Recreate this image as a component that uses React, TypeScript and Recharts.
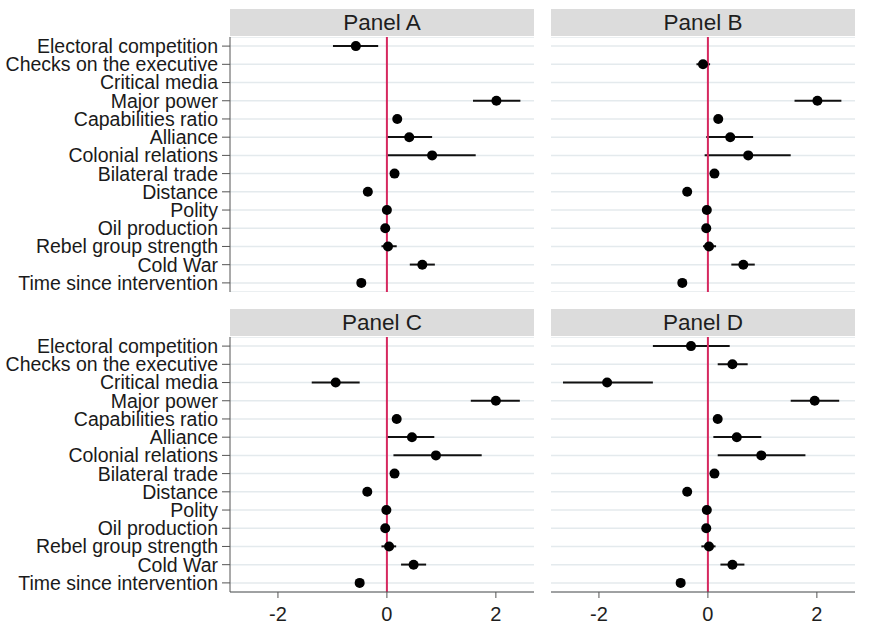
import React from "react";
import { ComposedChart, Bar, Line, XAxis, YAxis, CartesianGrid, ReferenceLine } from "recharts";

const variables = [
  "Electoral competition",
  "Checks on the executive",
  "Critical media",
  "Major power",
  "Capabilities ratio",
  "Alliance",
  "Colonial relations",
  "Bilateral trade",
  "Distance",
  "Polity",
  "Oil production",
  "Rebel group strength",
  "Cold War",
  "Time since intervention",
];

const xTicks = [-2, 0, 2];

const aEst = [-0.57, null, null, 2.01, 0.19, 0.41, 0.83, 0.14, -0.35, 0.0, -0.03, 0.02, 0.65, -0.47];
const aLo = [-0.99, null, null, 1.58, 0.12, 0.0, 0.01, 0.08, -0.42, -0.03, -0.07, -0.1, 0.42, -0.53];
const aHi = [-0.16, null, null, 2.45, 0.26, 0.83, 1.63, 0.2, -0.28, 0.03, 0.01, 0.18, 0.88, -0.41];

const bEst = [null, -0.09, null, 2.01, 0.19, 0.41, 0.74, 0.12, -0.38, -0.02, -0.03, 0.02, 0.65, -0.47];
const bLo = [null, -0.21, null, 1.59, 0.12, -0.03, -0.06, 0.06, -0.45, -0.05, -0.07, -0.09, 0.43, -0.53];
const bHi = [null, 0.04, null, 2.45, 0.26, 0.83, 1.52, 0.18, -0.31, 0.01, 0.01, 0.15, 0.86, -0.41];

const cEst = [null, null, -0.94, 2.0, 0.18, 0.46, 0.9, 0.14, -0.36, -0.01, -0.03, 0.04, 0.49, -0.5];
const cLo = [null, null, -1.38, 1.54, 0.11, 0.0, 0.12, 0.08, -0.43, -0.04, -0.07, -0.1, 0.26, -0.56];
const cHi = [null, null, -0.5, 2.44, 0.25, 0.87, 1.74, 0.2, -0.29, 0.02, 0.01, 0.17, 0.72, -0.44];

const dEst = [-0.31, 0.45, -1.85, 1.96, 0.18, 0.53, 0.98, 0.12, -0.38, -0.02, -0.03, 0.02, 0.45, -0.5];
const dLo = [-1.01, 0.18, -2.66, 1.52, 0.11, 0.1, 0.18, 0.06, -0.45, -0.05, -0.07, -0.12, 0.23, -0.56];
const dHi = [0.4, 0.73, -1.01, 2.41, 0.25, 0.98, 1.79, 0.18, -0.31, 0.01, 0.01, 0.14, 0.67, -0.44];

const font = "'Liberation Sans', Arial, sans-serif";

type PanelProps = {
  title: string;
  est: (number | null)[];
  lo: (number | null)[];
  hi: (number | null)[];
  left: number;
  top: number;
  showY: boolean;
  showX: boolean;
};

function Panel({ title, est, lo, hi, left, top, showY, showX }: PanelProps) {
  const rows = variables.map((name, i) => ({
    name,
    est: est[i],
    ci: lo[i] == null ? null : [lo[i], hi[i]],
  }));
  const yW = showY ? 230 : 0;
  const width = yW + 304;
  const height = 255 + (showX ? 45 : 0);
  return (
    <>
      <div
        style={{
          position: "absolute",
          left: left + yW,
          top: top - 28,
          width: 304,
          height: 27,
          background: "#dcdcdc",
          color: "#1e1e1e",
          fontFamily: font,
          fontSize: 22.5,
          lineHeight: "27px",
          textAlign: "center",
        }}
      >
        {title}
      </div>
      <div style={{ position: "absolute", left, top }}>
        <ComposedChart
          width={width}
          height={height}
          data={rows}
          layout="vertical"
          margin={{ top: 0, right: 0, bottom: 0, left: 0 }}
        >
          <CartesianGrid horizontal vertical={false} stroke="#e4eaed" strokeWidth={1.5} />
          <XAxis
            type="number"
            domain={[-2.88, 2.7]}
            allowDataOverflow
            ticks={xTicks}
            hide={!showX}
            height={45}
            stroke="#555"
            tickSize={6}
            tickMargin={9}
            tick={{ fill: "#1e1e1e", fontSize: 20, fontFamily: font }}
          />
          <YAxis
            type="category"
            dataKey="name"
            hide={!showY}
            width={yW}
            stroke="#555"
            tickSize={8}
            tickMargin={4}
            interval={0}
            tick={{ fill: "#1a1a1a", fontSize: 19.5, fontFamily: font }}
          />
          <ReferenceLine x={0} stroke="#d6285f" strokeWidth={2} />
          <Bar dataKey="ci" barSize={2} fill="#111" isAnimationActive={false} />
          <Line
            dataKey="est"
            stroke="none"
            dot={{ r: 5, fill: "#000", stroke: "#000", strokeWidth: 0 }}
            activeDot={false}
            isAnimationActive={false}
          />
        </ComposedChart>
      </div>
    </>
  );
}

export default function App() {
  return (
    <div style={{ position: "absolute", left: 0, top: 0, width: 881, height: 627, background: "#fff" }}>
      <Panel title="Panel A" est={aEst} lo={aLo} hi={aHi} left={0} top={37} showY showX={false} />
      <Panel title="Panel B" est={bEst} lo={bLo} hi={bHi} left={551} top={37} showY={false} showX={false} />
      <Panel title="Panel C" est={cEst} lo={cLo} hi={cHi} left={0} top={337} showY showX />
      <Panel title="Panel D" est={dEst} lo={dLo} hi={dHi} left={551} top={337} showY={false} showX />
    </div>
  );
}
